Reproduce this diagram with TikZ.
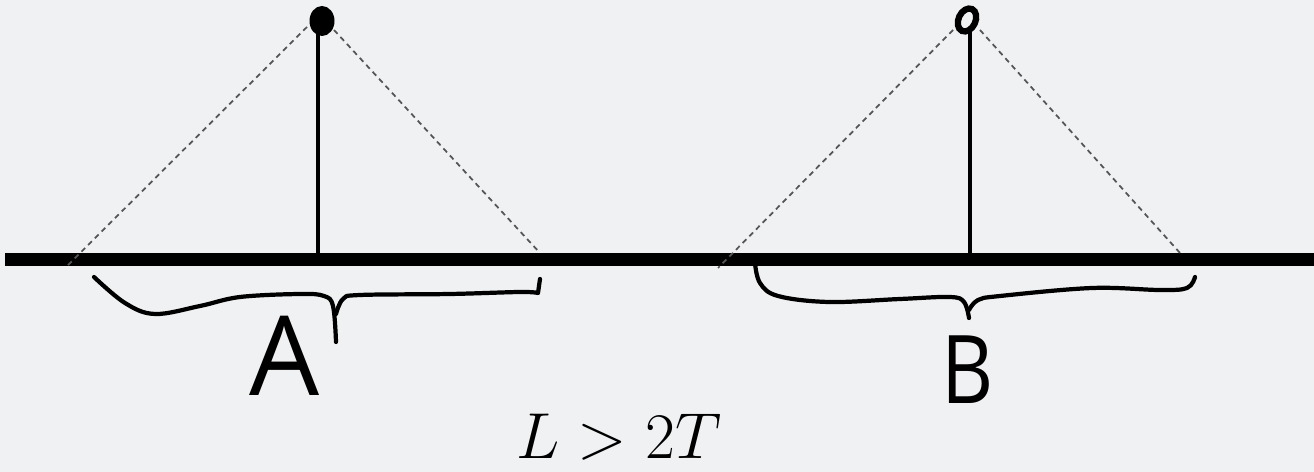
\RequirePackage{fix-cm}
\documentclass[tikz,border=0pt]{standalone}
\usepackage{fontspec}
\newfontfamily\handfont{Open Sans}
\definecolor{paper}{RGB}{240,241,242}
\definecolor{rayc}{RGB}{85,85,85}
\tikzset{
	ground/.style={line width=7.4pt},
	pole/.style={line width=2.8pt},
	ray/.style={rayc, line width=1pt, dash pattern=on 3pt off 2.4pt},
	brace/.style={line width=2.4pt, line cap=round, line join=round},
}
\begin{document}
\begin{tikzpicture}[x=0.02cm, y=-0.02cm]
		\fill[paper] (0,0) rectangle (1314,472);
		\useasboundingbox (0,0) rectangle (1314,472);

		% Ground
		\coordinate (G0) at (5,260);
		\coordinate (G1) at (1314,260);
		\draw[ground] (G0) -- (G1);

		% Left: pole with filled top
		\coordinate (PA)  at (318,256);
		\coordinate (TA)  at (318,30);
		\coordinate (TAl) at (307,27);
		\coordinate (TAr) at (334,30);
		\coordinate (EAl) at (65,268);
		\coordinate (EAr) at (540,253);
		\draw[ray] (TAl) -- (EAl);
		\draw[ray] (TAr) -- (EAr);
		\draw[pole] (PA) -- (TA);
		\fill (322,21) ellipse [x radius=12.5, y radius=15];

		% Right: pole with hollow top
		\coordinate (PB)  at (970,256);
		\coordinate (TB)  at (970,32);
		\coordinate (TBl) at (953,30);
		\coordinate (TBr) at (980,30);
		\coordinate (EBl) at (718,268);
		\coordinate (EBr) at (1180,253);
		\draw[ray] (TBl) -- (EBl);
		\draw[ray] (TBr) -- (EBr);
		\draw[pole] (PB) -- (TB);
		\draw[line width=3.6pt] (967,20) ellipse [x radius=8.5, y radius=12, rotate=-25];

		% Brace A
		\draw[brace] plot[smooth, tension=0.6] coordinates {(94,277) (125,303) (155,314) (200,306) (240,297) (300,294) (324,296) (333,306) (336,342)};
		\draw[brace] plot[smooth, tension=0.6] coordinates {(336,314) (343,299) (360,295) (450,294) (520,292) (538,293)} -- (540,279);

		% Brace B
		\draw[brace] plot[smooth, tension=0.6] coordinates {(755,263) (760,283) (778,296) (829,302) (900,299) (950,297) (964,302) (969,318)};
		\draw[brace] plot[smooth, tension=0.6] coordinates {(969,310) (978,300) (1000,296) (1092,288) (1160,290) (1187,288) (1195,277)};

		\node[font=\handfont\fontsize{63}{70}\selectfont] (labA) at (285,356) {A};
		\node[font=\handfont\fontsize{54}{60}\selectfont, xscale=0.85] (labB) at (968,370) {B};

		\node[anchor=base, inner sep=0pt, font=\fontsize{37}{44}\selectfont] (cond) at (619,459) {$L > 2T$};
	\end{tikzpicture}
\end{document}
